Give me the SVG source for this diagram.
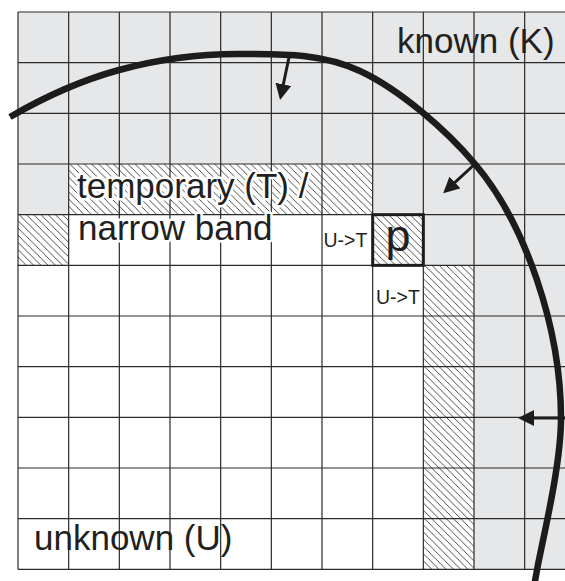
<svg xmlns="http://www.w3.org/2000/svg" width="565" height="581" viewBox="0 0 565 581">
  <defs>
    <pattern id="hatch" patternUnits="userSpaceOnUse" x="0" y="0" width="7.24" height="7.24">
      <path d="M-1,-1 L8.24,8.24 M-1,6.24 L1,8.24 M6.24,-1 L8.24,1" stroke="#1e1e1e" stroke-width="0.8" fill="none"/>
    </pattern>
    <marker id="arrowhead" viewBox="0 0 16 16" markerUnits="userSpaceOnUse" markerWidth="16" markerHeight="16" refX="4" refY="8" orient="auto">
      <path d="M0,0 L16,8 L0,16 Z" fill="#1e1b1c"/>
    </marker>
  </defs>
  <style>
    .known { fill: #e6e7e8; }
    .hatched { fill: url(#hatch); }
    .grid { fill: none; stroke: #2b2b2b; stroke-width: 1.2; }
    .label { font-family: "Liberation Sans", Arial, sans-serif; font-size: 35px; fill: #231f20; }
    .halo { stroke: #ffffff; stroke-width: 5; stroke-linejoin: round; paint-order: stroke fill; }
    .small { font-family: "Liberation Sans", Arial, sans-serif; font-size: 19.5px; fill: #231f20; }
    .front { fill: none; stroke: #1e1b1c; stroke-width: 6.5; stroke-linecap: butt; }
    .arrow { fill: none; stroke: #1e1b1c; stroke-width: 3; marker-end: url(#arrowhead); }
  </style>
  <rect width="565" height="581" fill="#ffffff"/>

  <g id="known-region">
    <path class="known" d="M18,12 H565 V569.33 H474 V265.33 H423.33 V214.67 H372.67 V164 H68.67 V214.67 H18 Z"/>
  </g>

  <g id="temporary-band">
    <rect class="hatched" x="68.67" y="164" width="304" height="50.67"/>
    <rect class="hatched" x="18" y="214.67" width="50.67" height="50.67"/>
    <rect class="hatched" x="423.33" y="265.33" width="50.67" height="304"/>
  </g>

  <g id="grid">
    <path class="grid" d="M18,12 H565 M18,62.67 H565 M18,113.33 H565 M18,164 H565 M18,214.67 H565 M18,265.33 H565 M18,316 H565 M18,366.67 H565 M18,417.33 H565 M18,468 H565 M18,518.67 H565 M18,569.33 H565
      M18,12 V569.33 M68.67,12 V569.33 M119.33,12 V569.33 M170,12 V569.33 M220.67,12 V569.33 M271.33,12 V569.33 M322,12 V569.33 M372.67,12 V569.33 M423.33,12 V569.33 M474,12 V569.33 M524.67,12 V569.33"/>
  </g>

  <g id="cell-p">
    <rect x="372.67" y="214.67" width="50.67" height="50.67" fill="#ffffff"/>
    <rect class="hatched" x="372.67" y="214.67" width="50.67" height="50.67"/>
    <rect x="372.67" y="214.67" width="50.67" height="50.67" fill="none" stroke="#1e1b1c" stroke-width="3"/>
    <text x="398" y="251" text-anchor="middle" font-family="Liberation Sans, Arial, sans-serif" font-size="45" fill="#231f20">p</text>
  </g>

  <g id="label-known">
    <text class="label" x="397" y="53">known (K)</text>
  </g>
  <g id="label-temporary">
    <text class="label halo" x="77" y="198">temporary (T) /</text>
    <text class="label halo" x="78" y="240">narrow band</text>
  </g>
  <g id="label-unknown">
    <text class="label" x="34" y="550">unknown (U)</text>
  </g>
  <g id="label-u-to-t">
    <text class="small" x="323.5" y="247">U-&gt;T</text>
    <text class="small" x="376" y="304">U-&gt;T</text>
  </g>

  <g id="front">
    <path class="front" d="M10,117 C46,96 80.7,80.5 119,70 C157.3,59.5 199.8,53.8 240,54 C280.2,54.2 320.8,52.7 360,71 C399.2,89.3 445.5,129.2 475,164 C504.5,198.8 522.7,237.7 537,280 C551.3,322.3 561,369.7 561,418 C561,466.3 542.2,541 537,570 L533,592"/>
  </g>

  <g id="connectors">
    <path class="arrow" d="M289.5,55 L282.5,88.3"/>
    <path class="arrow" d="M476,163 L452,185.1"/>
    <path class="arrow" d="M565,418 L530,418"/>
  </g>
</svg>
